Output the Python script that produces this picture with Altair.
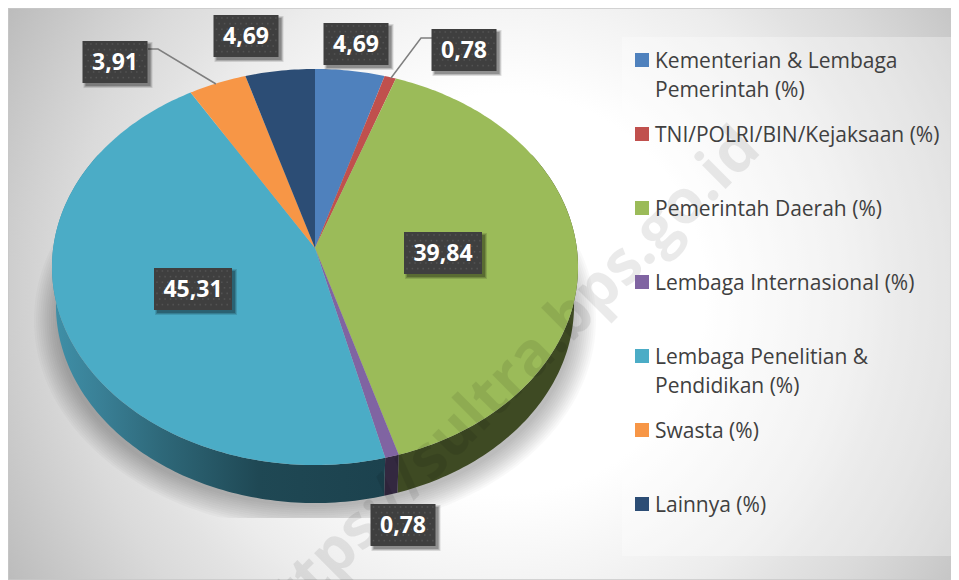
import math
import altair as alt
import pandas as pd

# ---- data ----
categories = ["Kementerian & Lembaga Pemerintah (%)", "TNI/POLRI/BIN/Kejaksaan (%)",
              "Pemerintah Daerah (%)", "Lembaga Internasional (%)",
              "Lembaga Penelitian & Pendidikan (%)", "Swasta (%)", "Lainnya (%)"]
legend_lines = [["Kementerian & Lembaga", "Pemerintah (%)"], ["TNI/POLRI/BIN/Kejaksaan (%)"],
                ["Pemerintah Daerah (%)"], ["Lembaga Internasional (%)"],
                ["Lembaga Penelitian &", "Pendidikan (%)"], ["Swasta (%)"], ["Lainnya (%)"]]
values = [4.69, 0.78, 39.84, 0.78, 45.31, 3.91, 4.69]
colors = ["#4f81bd", "#c0504d", "#9bbb59", "#8064a2", "#4bacc6", "#f79646", "#2c4d75"]

# ---- layout (image pixels) ----
label_centers = [(356, 44), (464, 50), (443, 253), (403, 525), (193, 289), (115, 62), (246, 36)]
label_widths = [65, 65, 78, 65, 78, 65, 65]
W, H = 943, 572
CX, CY, A, B, P, DEPTH = 315, 248, 261.8, 196.2, 0.096, 38

sx = alt.Scale(domain=[8, 951], range=[0, W], nice=False, zero=False)
sy = alt.Scale(domain=[8, 580], range=[0, H], nice=False, zero=False)
X = alt.X("x:Q", scale=sx, axis=None)
Y = alt.Y("y:Q", scale=sy, axis=None)
COL = alt.Color("cat:N", scale=alt.Scale(domain=categories, range=colors), legend=None)


def proj(deg):
    t = math.radians(deg)
    u, v = math.sin(t), -math.cos(t)
    w = 1 - P * v
    return CX + A * u / w, CY + B * v / w


def low(deg):
    x, y = proj(deg)
    return CX + 0.985 * (x - CX), y + DEPTH


def shade(hexcol, f):
    r, g, b = [int(hexcol[i:i + 2], 16) for i in (1, 3, 5)]
    return "#%02x%02x%02x" % (int(r * f), int(g * f), int(b * f))


# slice angle ranges
ranges, cum = [], 0.0
for v in values:
    ranges.append((cum * 3.6, (cum + v) * 3.6))
    cum += v

# top face
top = []
for i, (a0, a1) in enumerate(ranges):
    n = max(2, int((a1 - a0)) + 1)
    pts = [(CX, CY)] + [proj(a0 + (a1 - a0) * k / n) for k in range(n + 1)]
    for k, (x, y) in enumerate(pts):
        top.append(dict(cat=categories[i], id=i, o=k, x=x, y=y))
top_df = pd.DataFrame(top)


# side wall: one polygon per visible slice
def wall_poly(i):
    s0, s1 = max(ranges[i][0], 60), min(ranges[i][1], 300)
    n = max(2, int(s1 - s0))
    ang = [s0 + (s1 - s0) * k / n for k in range(n + 1)]
    pts = [proj(a) for a in ang] + [low(a) for a in reversed(ang)]
    return pd.DataFrame([dict(o=o, x=p[0], y=p[1]) for o, p in enumerate(pts)])


def wall_layer(i, fill):
    return (alt.Chart(wall_poly(i)).mark_line(filled=True, fill=fill, stroke=None, strokeWidth=0)
            .encode(X, Y, order="o:Q"))


teal_wall = alt.LinearGradient(gradient="linear", x1=0, x2=1, y1=0, y2=0,
                               stops=[alt.GradientStop(offset=0, color="#3f90a8"),
                                      alt.GradientStop(offset=0.15, color="#397f95"),
                                      alt.GradientStop(offset=0.33, color="#2e6879"),
                                      alt.GradientStop(offset=0.62, color="#1f4854"),
                                      alt.GradientStop(offset=1, color="#1c424e")])
walls = [wall_layer(2, shade(colors[2], 0.4)), wall_layer(3, shade(colors[3], 0.4)), wall_layer(4, teal_wall)]

# soft shadow under the pie
shadow = []
for s in range(12):
    rx = 281 - s * 2.1
    ry = 210 - s * 2.1
    for k in range(181):
        t = math.radians(k * 2)
        shadow.append(dict(id=s, o=k, x=315 + rx * math.sin(t), y=min(518, 320 - ry * math.cos(t))))
shadow_df = pd.DataFrame(shadow)

# background: a square box so the radial gradient stays circular (the page cuts it)
bg = (alt.Chart(pd.DataFrame([dict(x=-15, x2=1025, y=-226, y2=814)]))
      .mark_rect(color=alt.RadialGradient(gradient="radial", x1=0.5, y1=0.5, x2=0.5, y2=0.5, r1=0, r2=0.55,
                                          stops=[alt.GradientStop(offset=0, color="#ffffff"),
                                                 alt.GradientStop(offset=0.35, color="#ffffff"),
                                                 alt.GradientStop(offset=0.5, color="#f4f4f4"),
                                                 alt.GradientStop(offset=0.6, color="#ececec"),
                                                 alt.GradientStop(offset=0.685, color="#e2e2e2"),
                                                 alt.GradientStop(offset=0.77, color="#dadada"),
                                                 alt.GradientStop(offset=0.85, color="#d0d0d0"),
                                                 alt.GradientStop(offset=1, color="#bcbcbc")]))
      .encode(X, alt.X2("x2:Q"), Y, alt.Y2("y2:Q")))
border = (alt.Chart(pd.DataFrame([dict(x=8, x2=951, y=8, y2=580)]))
          .mark_rect(fillOpacity=0, stroke="#c8c8c8", strokeWidth=1.5)
          .encode(X, alt.X2("x2:Q"), Y, alt.Y2("y2:Q")))
legend_box = (alt.Chart(pd.DataFrame([dict(x=622, x2=951, y=37, y2=556)]))
              .mark_rect(color="#ffffff", opacity=0.32)
              .encode(X, alt.X2("x2:Q"), Y, alt.Y2("y2:Q")))

shadow_layer = (alt.Chart(shadow_df).mark_line(filled=True, color="#000000", opacity=0.024, strokeWidth=0)
                .encode(X, Y, detail="id:N", order="o:Q"))
top_layer = (alt.Chart(top_df).mark_line(filled=True, strokeWidth=0)
             .encode(X, Y, detail="id:N", order="o:Q",
                     fill=alt.Fill("cat:N", scale=alt.Scale(domain=categories, range=colors), legend=None)))

# watermark
wm = (alt.Chart(pd.DataFrame([dict(x=750, y=139, t="https://sultra.bps.go.id")]))
      .mark_text(font="Open Sans", fontWeight="bold", fontSize=61, angle=315, align="right",
                 baseline="middle", color="#000000", opacity=0.08)
      .encode(X, Y, text="t:N"))

# leader lines
leaders = pd.DataFrame([dict(id=0, o=0, x=148, y=49), dict(id=0, o=1, x=158, y=49), dict(id=0, o=2, x=216, y=84),
                        dict(id=1, o=0, x=432, y=38), dict(id=1, o=1, x=421, y=38), dict(id=1, o=2, x=391, y=78)])
leader_layer = (alt.Chart(leaders).mark_line(color="#7f7f7f", strokeWidth=1.5)
                .encode(X, Y, detail="id:N", order="o:Q"))

# data labels
lab = []
for i, v in enumerate(values):
    cx, cy = label_centers[i]
    w = label_widths[i]
    lab.append(dict(t=f"{v:.2f}".replace(".", ","), x=cx, y=cy, l=cx - w / 2, r=cx + w / 2, u=cy - 21, d=cy + 21))
lab_df = pd.DataFrame(lab)


def box_shadow(off, opacity, grow):
    d = lab_df.assign(l=lab_df.l + off - grow, r=lab_df.r + off + grow, u=lab_df.u + off - grow, d=lab_df.d + off + grow)
    return (alt.Chart(d).mark_rect(color="#000000", opacity=opacity)
            .encode(alt.X("l:Q", scale=sx, axis=None), alt.X2("r:Q"),
                    alt.Y("u:Q", scale=sy, axis=None), alt.Y2("d:Q")))


shadows = [box_shadow(3, 0.12, 2), box_shadow(3, 0.16, 1), box_shadow(3, 0.22, 0)]
boxes = (alt.Chart(lab_df).mark_rect(color="#3f3f3f")
         .encode(alt.X("l:Q", scale=sx, axis=None), alt.X2("r:Q"),
                 alt.Y("u:Q", scale=sy, axis=None), alt.Y2("d:Q")))
dots = []
for r in lab:
    yy = r["u"] + 3
    row = 0
    while yy < r["d"] - 1:
        xx = r["l"] + (3 if row % 2 == 0 else 5.7)
        while xx < r["r"] - 1:
            dots.append(dict(x=xx, y=yy))
            xx += 5.4
        yy += 5.6
        row += 1
dots_layer = (alt.Chart(pd.DataFrame(dots)).mark_point(filled=True, shape="square", size=2.5, color="#535353", opacity=1)
              .encode(X, Y))
lab_text = (alt.Chart(lab_df).mark_text(font="Open Sans", fontWeight="bold", fontSize=23, color="#ffffff", baseline="middle", dy=1)
            .encode(X, Y, text="t:N"))

# legend drawn in the right panel
leg_marks, leg_text = [], []
for i, cat in enumerate(categories):
    y0 = 60 + 74 * i
    leg_marks.append(dict(cat=cat, x=642, y=y0))
    for j, line in enumerate(legend_lines[i]):
        leg_text.append(dict(t=line, x=655, y=y0 + 1.5 + 29 * j))
leg_m = (alt.Chart(pd.DataFrame(leg_marks)).mark_point(filled=True, shape="square", size=196, opacity=1)
         .encode(X, Y, COL))
leg_t = (alt.Chart(pd.DataFrame(leg_text)).mark_text(font="Open Sans", fontSize=21, align="left", baseline="middle", color="#404040")
         .encode(X, Y, text="t:N"))

chart = (alt.layer(bg, border, legend_box, shadow_layer, *walls, top_layer, wm, leader_layer,
                   *shadows, boxes, dots_layer, lab_text, leg_m, leg_t)
         .properties(width=W, height=H, padding=0, autosize=alt.AutoSizeParams(type="none"))
         .configure_view(stroke=None))
chart.save("out.html", embed_options={"renderer": "svg", "actions": False})
